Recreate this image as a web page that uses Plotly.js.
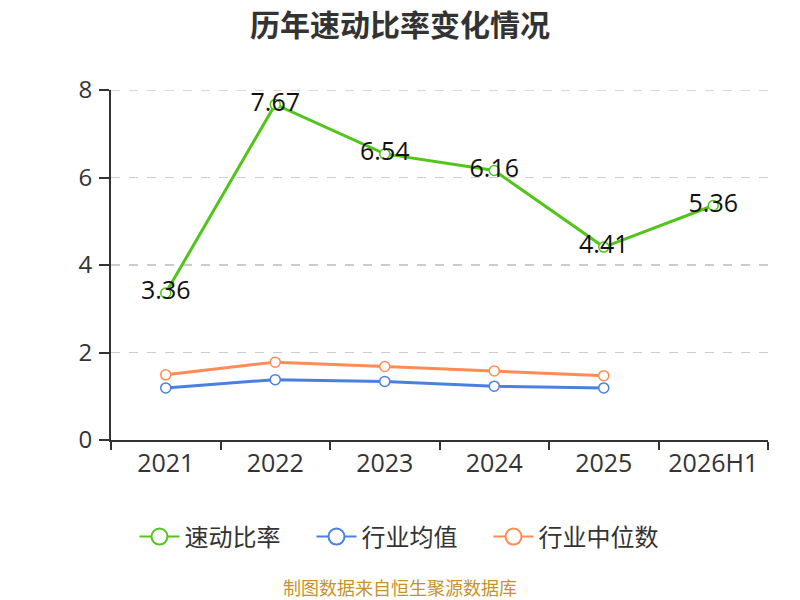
<!DOCTYPE html>
<html>
<head>
<meta charset="utf-8">
<script src="https://cdn.plot.ly/plotly-3.0.1.min.js"></script>
<style>
  html, body { margin: 0; padding: 0; background: #fff; }
  #chart { width: 800px; height: 600px; }
</style>
</head>
<body>
<div id="chart"></div>
<script>
// values
var years = ['2021', '2022', '2023', '2024', '2025', '2026H1'];
var quickRatio = [3.36, 7.67, 6.54, 6.16, 4.41, 5.36];
var industryMean = [1.19, 1.38, 1.34, 1.23, 1.19];
var industryMedian = [1.49, 1.78, 1.68, 1.58, 1.47];

var seriesNames = ['速动比率', '行业均值', '行业中位数'];
var seriesColors = ['#52c41a', '#4a80e2', '#ff8c55'];

var fontFam = "'Open Sans', 'Noto Sans CJK SC', sans-serif";
var cjkFam = "'Noto Sans CJK SC', sans-serif";

function lineTrace(name, xs, ys, color, withText) {
    var t = {
        x: xs,
        y: ys,
        name: name,
        type: 'scatter',
        mode: withText ? 'lines+markers+text' : 'lines+markers',
        line: {color: color, width: 3},
        marker: {symbol: 'circle', size: 10, color: '#ffffff',
                 line: {color: color, width: 1.5}},
        cliponaxis: false,
        showlegend: false,
        hoverinfo: 'none'
    };
    if (withText) {
        t.text = ys.map(function (v) { return v.toFixed(2); });
        t.textposition = 'middle center';
        t.textfont = {family: fontFam, size: 25, color: '#111111'};
    }
    return t;
}

// legend-only entries, so the legend circles can be drawn bigger than the plot markers
function legendTrace(name, color) {
    return {
        x: [null], y: [null],
        name: name,
        type: 'scatter',
        mode: 'lines+markers',
        line: {color: color, width: 2},
        marker: {symbol: 'circle', size: 16, color: '#ffffff',
                 line: {color: color, width: 2}},
        hoverinfo: 'none'
    };
}

var data = [
    lineTrace(seriesNames[0], years, quickRatio, seriesColors[0], true),
    lineTrace(seriesNames[1], years.slice(0, 5), industryMean, seriesColors[1], false),
    lineTrace(seriesNames[2], years.slice(0, 5), industryMedian, seriesColors[2], false)
];
for (var i = 0; i < seriesNames.length; i++) {
    data.push(legendTrace(seriesNames[i], seriesColors[i]));
}

var layout = {
    width: 800,
    height: 600,
    paper_bgcolor: '#ffffff',
    plot_bgcolor: '#ffffff',
    font: {family: fontFam, color: '#333333'},
    margin: {l: 111, r: 32, t: 90, b: 160, autoexpand: false},
    title: {
        text: '<b>历年速动比率变化情况</b>',
        font: {family: cjkFam, size: 30, color: '#333333'},
        xref: 'container', x: 0.5, xanchor: 'center',
        y: 0.958, yanchor: 'middle'
    },
    xaxis: {
        type: 'category',
        range: [-0.5, 5.5],
        tickson: 'boundaries',
        ticks: 'outside',
        ticklen: 8,
        tickwidth: 2,
        tickcolor: '#333333',
        tickangle: 0,
        showline: true,
        linecolor: '#333333',
        linewidth: 2,
        showgrid: false,
        zeroline: false,
        tickfont: {family: fontFam, size: 25, color: '#333333'},
        fixedrange: true
    },
    yaxis: {
        range: [0, 8],
        tickvals: [0, 2, 4, 6, 8],
        ticks: 'outside',
        ticklen: 10,
        tickwidth: 2,
        tickcolor: '#333333',
        ticklabelstandoff: 2,
        showline: true,
        linecolor: '#333333',
        linewidth: 2,
        showgrid: true,
        gridcolor: '#cccccc',
        griddash: 'dash',
        gridwidth: 1.5,
        zeroline: false,
        tickfont: {family: fontFam, size: 24, color: '#333333'},
        fixedrange: true
    },
    // top gridline sits on the plot edge, Plotly hides it, so draw it here
    shapes: [{
        type: 'line', xref: 'paper', yref: 'y',
        x0: 0, x1: 1, y0: 8, y1: 8,
        line: {color: '#cccccc', width: 1.5, dash: 'dash'},
        layer: 'below'
    }],
    showlegend: true,
    legend: {
        orientation: 'h',
        x: (400 - 111) / 657, xanchor: 'center',
        y: -0.277, yanchor: 'middle',
        font: {family: cjkFam, size: 24, color: '#333333'},
        itemwidth: 40,
        entrywidth: 122
    },
    annotations: [{
        text: '制图数据来自恒生聚源数据库',
        xref: 'paper', yref: 'paper',
        x: (400 - 111) / 657, xanchor: 'center',
        y: -0.42, yanchor: 'middle',
        showarrow: false,
        font: {family: cjkFam, size: 18, color: '#c8922a'}
    }]
};

Plotly.newPlot('chart', data, layout, {displayModeBar: false, staticPlot: true});
</script>
</body>
</html>
